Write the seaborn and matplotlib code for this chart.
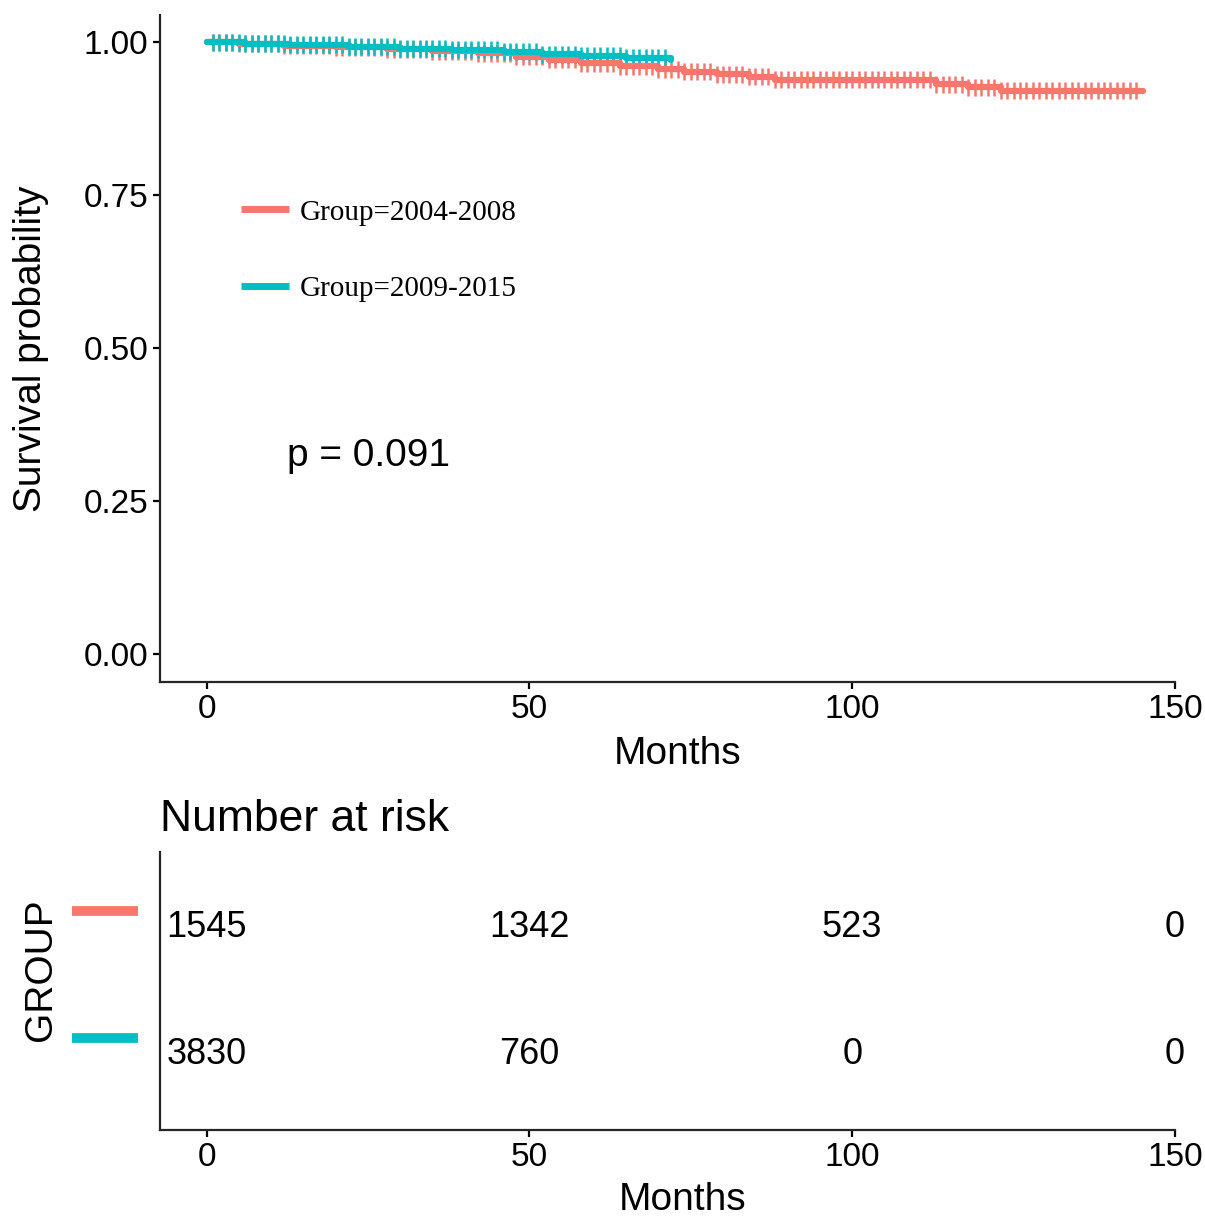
import numpy as np
import pandas as pd
import matplotlib
matplotlib.use("Agg")
import matplotlib.pyplot as plt
import seaborn as sns

# Kaplan-Meier steps
groups = ["Group=2004-2008", "Group=2009-2015"]
colors = ["#F8766D", "#00BFC4"]

red_time = [0, 5, 12, 20, 28, 35, 42, 48, 53, 58, 64, 70, 74, 79, 84, 88, 113, 118, 123, 145]
red_surv = [1.0, 0.998, 0.995, 0.992, 0.989, 0.986, 0.982, 0.977, 0.972, 0.966, 0.961,
            0.956, 0.952, 0.948, 0.944, 0.939, 0.932, 0.927, 0.921, 0.921]
teal_time = [0, 6, 13, 22, 30, 38, 46, 52, 58, 65, 72]
teal_surv = [1.0, 0.998, 0.996, 0.993, 0.990, 0.988, 0.985, 0.981, 0.978, 0.975, 0.972]

# censoring marks: one at nearly every month
red_censor = list(range(1, 145))
teal_censor = list(range(1, 72))

# number at risk
risk_times = [0, 50, 100, 150]
risk_red = [1545, 1342, 523, 0]
risk_teal = [3830, 760, 0, 0]
p_text = "p = 0.091"

curves = pd.concat([
    pd.DataFrame({"time": red_time, "surv": red_surv, "group": groups[0]}),
    pd.DataFrame({"time": teal_time, "surv": teal_surv, "group": groups[1]}),
])


def surv_at(times, surv, t):
    idx = np.searchsorted(times, t, side="right") - 1
    return np.asarray(surv)[idx]


cens = pd.concat([
    pd.DataFrame({"time": red_censor, "surv": surv_at(red_time, red_surv, red_censor), "group": groups[0]}),
    pd.DataFrame({"time": teal_censor, "surv": surv_at(teal_time, teal_surv, teal_censor), "group": groups[1]}),
])

sns.set_theme(style="ticks")
plt.rcParams["font.family"] = ["Liberation Sans", "DejaVu Sans"]
plt.rcParams["text.color"] = "black"
plt.rcParams["axes.labelcolor"] = "black"
plt.rcParams["axes.linewidth"] = 1.6
plt.rcParams["xtick.major.width"] = 1.6
plt.rcParams["ytick.major.width"] = 1.6
plt.rcParams["xtick.major.size"] = 5
plt.rcParams["ytick.major.size"] = 5

fig = plt.figure(figsize=(12.05, 12.25), dpi=100)
ax = fig.add_axes([0.1328, 0.4433, 0.8423, 0.5445])
ax2 = fig.add_axes([0.1328, 0.0776, 0.8423, 0.2269])

palette = dict(zip(groups, colors))
sns.lineplot(data=curves, x="time", y="surv", hue="group", palette=palette,
             drawstyle="steps-post", estimator=None, linewidth=4.5, ax=ax, legend=False)
sns.scatterplot(data=cens, x="time", y="surv", hue="group", palette=palette,
                marker="|", s=150, linewidth=1.8, ax=ax, legend=False)

ax.set_xlim(-7.2, 150)
ax.set_ylim(-0.045, 1.045)
ax.set_xticks([0, 50, 100, 150])
ax.set_yticks([0, 0.25, 0.5, 0.75, 1.0])
ax.set_yticklabels(["0.00", "0.25", "0.50", "0.75", "1.00"])
ax.tick_params(labelsize=24, colors="black")
ax.set_xlabel("Months", fontsize=28, labelpad=8)
ax.xaxis.label.set_x(0.51)
ax.set_ylabel("Survival probability", fontsize=28)
ax.yaxis.set_label_coords(-0.109, 0.5)
sns.despine(ax=ax)
ax.text(12.5, 0.325, p_text, fontsize=28, va="center")

handles = [plt.Line2D([], [], color=c, lw=5, solid_capstyle="butt") for c in colors]
leg = ax.legend(handles, groups, loc="upper left", bbox_to_anchor=(0.054, 0.763),
                frameon=False, handlelength=1.65, handletextpad=0.35, labelspacing=1.72,
                prop={"family": "Liberation Serif", "size": 21})

# risk table
rows = [2, 1]
for row, vals in zip(rows, [risk_red, risk_teal]):
    for t, v in zip(risk_times, vals):
        ax2.text(t, row, str(v), ha="center", va="center", fontsize=26)
ax2.set_xlim(-7.2, 150)
ax2.set_ylim(0.4, 2.6)
ax2.set_xticks([0, 50, 100, 150])
ax2.set_yticks([])
ax2.tick_params(labelsize=24, colors="black")
ax2.set_xlabel("Months", fontsize=28, labelpad=7)
ax2.xaxis.label.set_x(0.515)
ax2.set_ylabel("GROUP", fontsize=28)
ax2.yaxis.set_label_coords(-0.100, 0.575)
ax2.set_title("Number at risk", fontsize=32, loc="left", pad=15)
sns.despine(ax=ax2)
ytrans = ax2.get_yaxis_transform()
for row, c in zip(rows, colors):
    ax2.plot([-0.087, -0.022], [row + 0.13, row + 0.13], color=c, lw=7,
             transform=ytrans, clip_on=False, solid_capstyle="butt")

fig.savefig("out.png", dpi=100)
